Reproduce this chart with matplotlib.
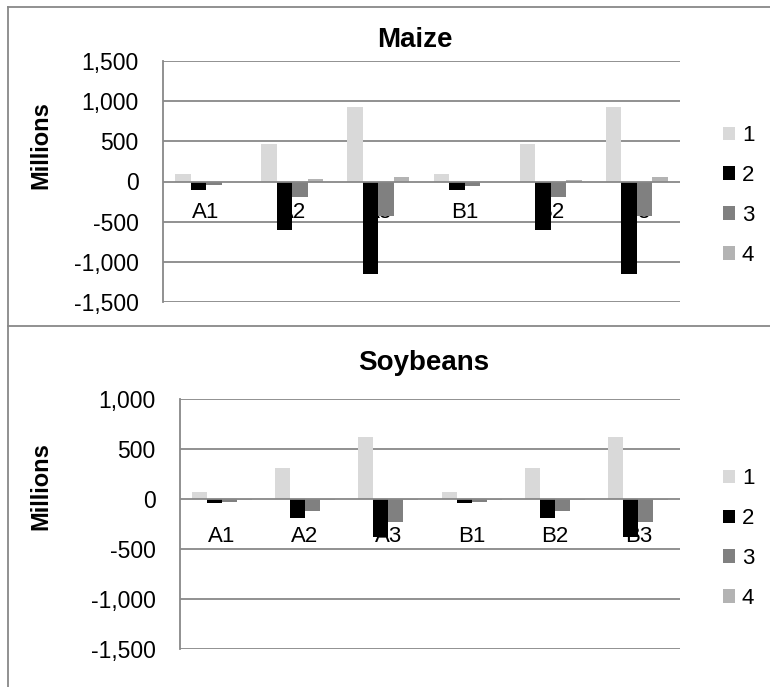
import numpy as np
import matplotlib.pyplot as plt
from matplotlib.patches import Patch
from matplotlib.lines import Line2D

plt.rcParams['font.family'] = ['Liberation Sans', 'DejaVu Sans']

# ============================================================
# DATOS (millones)
# ============================================================
categorias = ['A1', 'A2', 'A3', 'B1', 'B2', 'B3']
series = ['1', '2', '3', '4']

maiz_s1 = [90, 462, 929, 90, 462, 929]
maiz_s2 = [-110, -600, -1154, -108, -600, -1154]
maiz_s3 = [-48, -196, -425, -50, -196, -425]
maiz_s4 = [-5, 33, 60, -5, 20, 50]

soja_s1 = [73, 313, 626, 73, 313, 626]
soja_s2 = [-40, -187, -373, -42, -190, -373]
soja_s3 = [-27, -113, -223, -25, -113, -223]
soja_s4 = [-5, -3, -3, -5, -3, -3]

ticks_maiz = [-1500, -1000, -500, 0, 500, 1000, 1500]
ticks_soja = [-1500, -1000, -500, 0, 500, 1000]

colores = ['#d9d9d9', '#000000', '#808080', '#b3b3b3']
gris = '#888888'

W, H = 770, 687
fig = plt.figure(figsize=(W / 100, H / 100), dpi=100)


def caja(x0, y0, x1, y1):
    # coordenadas en pixeles (origen arriba a la izquierda)
    return [x0 / W, 1 - y1 / H, (x1 - x0) / W, (y1 - y0) / H]


def grafico(rect, titulo, valores, ticks, off_lbl, titulo_xy, ylab_y, legend_y):
    ax = fig.add_axes(rect)
    n = len(categorias)
    x = np.arange(n)
    ancho = 0.18
    for k, vals in enumerate(valores):
        ax.bar(x + (k - 1.5) * ancho, vals, width=ancho, color=colores[k],
               zorder=3, linewidth=0)
    ax.set_xlim(-0.5, n - 0.5)
    ax.set_ylim(ticks[0], ticks[-1])
    ax.set_yticks(ticks)
    ax.set_yticklabels([f"{t:,}" for t in ticks], fontsize=16.5)
    ax.tick_params(axis='y', length=0, pad=17.5)
    ax.set_xticks([])
    for t in ticks:
        ax.axhline(t, color=gris, lw=1.3, zorder=1 if t != 0 else 4)
    for s in ['top', 'right', 'bottom']:
        ax.spines[s].set_visible(False)
    ax.spines['left'].set_color(gris)
    ax.spines['left'].set_linewidth(1.3)
    for i, c in enumerate(categorias):
        ax.annotate(c, (i, 0), xytext=(0, -off_lbl), textcoords='offset pixels',
                    ha='center', va='center', fontsize=16, zorder=2)
    fig.text(41 / W, 1 - ylab_y / H, 'Millions', rotation=90, ha='center',
             va='center', fontsize=17, fontweight='bold')
    fig.text(titulo_xy[0] / W, 1 - titulo_xy[1] / H, titulo, ha='center',
             va='baseline', fontsize=20, fontweight='bold')
    handles = [Patch(facecolor=c, edgecolor='none') for c in colores]
    fig.legend(handles, series, loc='center left',
               bbox_to_anchor=(712 / W, 1 - legend_y / H), frameon=False,
               fontsize=16, handlelength=0.55, handleheight=0.55,
               handletextpad=0.3, labelspacing=0.85, borderpad=0)
    return ax


ax1 = grafico(caja(163, 61, 680, 302), 'Maize',
              [maiz_s1, maiz_s2, maiz_s3, maiz_s4], ticks_maiz, 31,
              (415, 46.7), 145, 195.5)
ax2 = grafico(caja(180, 399.3, 680, 649.3), 'Soybeans',
              [soja_s1, soja_s2, soja_s3, soja_s4], ticks_soja, 37,
              (423.5, 370.5), 486, 538.5)

# bordes de los graficos
for xs, ys in [([8, W], [7, 7]), ([8, 8], [7, H]), ([8, W], [325.7, 325.7])]:
    fig.add_artist(Line2D([v / W for v in xs], [1 - v / H for v in ys],
                          color=gris, lw=1.3))

fig.savefig('out.png', dpi=100)
